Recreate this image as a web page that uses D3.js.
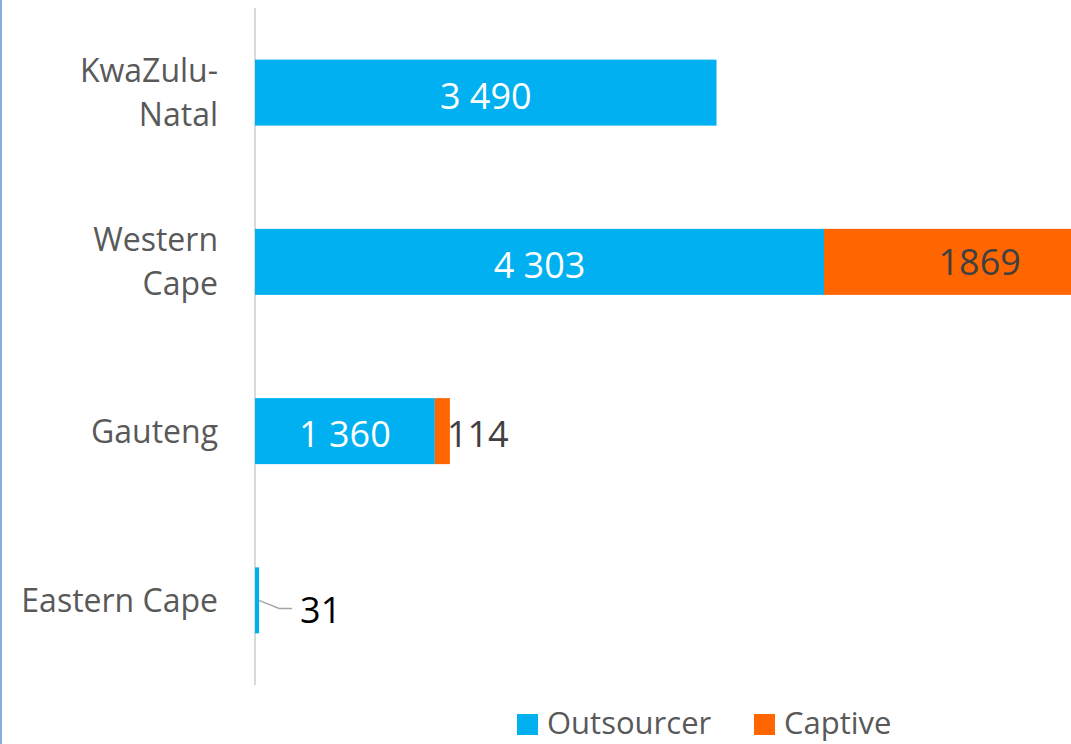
<!DOCTYPE html>
<html>
<head>
<meta charset="utf-8">
<script src="https://cdn.jsdelivr.net/npm/d3@7"></script>
<style>
  body { margin: 0; background: #fff; }
  svg { display: block; font-family: 'Open Sans', sans-serif; }
</style>
</head>
<body>
<svg></svg>
<script>
let categories = ['KwaZulu-Natal', 'Western Cape', 'Gauteng', 'Eastern Cape']
let catLines = [['KwaZulu-', 'Natal'], ['Western', 'Cape'], ['Gauteng'], ['Eastern Cape']]
let outsourcer = [3490, 4303, 1360, 31]
let captive = [0, 1869, 114, 0]
let outLabels = ['3 490', '4 303', '1 360', '31']
let capLabels = ['', '1869', '114', '']

let width = 1071
let height = 744
let plotLeft = 255
let plotTop = 8
let plotBottom = 685

let svg = d3.select('svg').attr('width', width).attr('height', height)

// blue frame edge on the left
svg.append('line').attr('x1', 1).attr('x2', 1).attr('y1', 0).attr('y2', height)
   .attr('stroke', '#7fb1e3').attr('stroke-width', 2)

let xScale = d3.scaleLinear().domain([0, 4303]).range([plotLeft, 824])
let yScale = d3.scaleBand().domain(categories).range([plotTop, plotBottom]).paddingInner(0.61).paddingOuter(0.305)

let rows = categories.map((c, i) => ({ cat: c, out: outsourcer[i], cap: captive[i], i: i }))

// axis line
svg.append('line').attr('x1', plotLeft).attr('x2', plotLeft).attr('y1', plotTop).attr('y2', plotBottom)
   .attr('stroke', '#d9d9d9').attr('stroke-width', 2)

svg.selectAll('rect.out').data(rows).enter().append('rect')
   .attr('class', 'out')
   .attr('x', xScale(0))
   .attr('y', d => yScale(d.cat))
   .attr('width', d => xScale(d.out) - xScale(0))
   .attr('height', yScale.bandwidth())
   .attr('fill', '#00b0f0')

svg.selectAll('rect.cap').data(rows.filter(d => d.cap > 0)).enter().append('rect')
   .attr('class', 'cap')
   .attr('x', d => xScale(d.out))
   .attr('y', d => yScale(d.cat))
   .attr('width', d => xScale(d.out + d.cap) - xScale(d.out))
   .attr('height', yScale.bandwidth())
   .attr('fill', '#ff6600')

// category labels
rows.forEach(d => {
    let lines = catLines[d.i]
    let cy = yScale(d.cat) + yScale.bandwidth() / 2
    let lh = 44
    lines.forEach((t, j) => {
        svg.append('text')
           .attr('x', 218)
           .attr('y', cy + (j - (lines.length - 1) / 2) * lh)
           .attr('dy', '0.36em')
           .attr('text-anchor', 'end')
           .attr('fill', '#595959')
           .attr('font-size', 32)
           .text(t)
    })
})

// outsourcer data labels
rows.forEach(d => {
    let cy = yScale(d.cat) + yScale.bandwidth() / 2
    if (d.out > 500) {
        svg.append('text')
           .attr('x', (xScale(0) + xScale(d.out)) / 2)
           .attr('y', cy + 3)
           .attr('dy', '0.36em')
           .attr('text-anchor', 'middle')
           .attr('fill', '#ffffff')
           .attr('font-size', 36)
           .text(outLabels[d.i])
    } else {
        // small value: label pulled out with a leader line
        let x0 = xScale(d.out)
        svg.append('path')
           .attr('d', `M${x0},${cy} L${x0 + 20},${cy + 8} L${x0 + 33},${cy + 8}`)
           .attr('fill', 'none').attr('stroke', '#a6a6a6').attr('stroke-width', 1.5)
        svg.append('text')
           .attr('x', x0 + 41)
           .attr('y', cy + 10)
           .attr('dy', '0.36em')
           .attr('fill', '#000000')
           .attr('font-size', 36)
           .text(outLabels[d.i])
    }
})

// captive data labels
rows.filter(d => d.cap > 0).forEach(d => {
    let cy = yScale(d.cat) + yScale.bandwidth() / 2
    let x0 = xScale(d.out), x1 = xScale(d.out + d.cap)
    if (d.cap > 500) {
        svg.append('text')
           .attr('x', x0 + (x1 - x0) * 0.63)
           .attr('y', cy)
           .attr('dy', '0.36em')
           .attr('text-anchor', 'middle')
           .attr('fill', '#404040')
           .attr('font-size', 36)
           .text(capLabels[d.i])
    } else {
        svg.append('text')
           .attr('x', x1 - 3)
           .attr('y', cy + 3)
           .attr('dy', '0.36em')
           .attr('fill', '#404040')
           .attr('font-size', 36)
           .text(capLabels[d.i])
    }
})

// legend
let legendItems = [{ name: 'Outsourcer', color: '#00b0f0', x: 517 }, { name: 'Captive', color: '#ff6600', x: 754 }]
legendItems.forEach(it => {
    svg.append('rect').attr('x', it.x).attr('y', 714).attr('width', 21).attr('height', 21).attr('fill', it.color)
    svg.append('text').attr('x', it.x + 30).attr('y', 723).attr('dy', '0.36em')
       .attr('fill', '#595959').attr('font-size', 31).text(it.name)
})
</script>
</body>
</html>
